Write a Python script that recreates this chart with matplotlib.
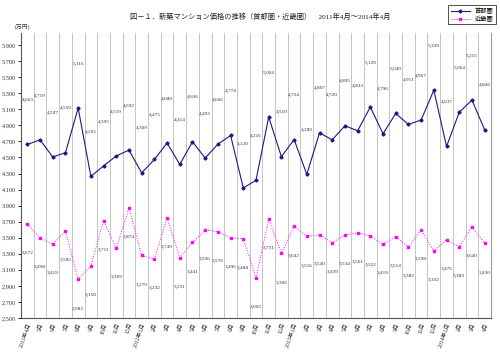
import numpy as np
import matplotlib.pyplot as plt

plt.rcParams['font.family'] = ['Liberation Serif', 'Noto Sans CJK JP', 'DejaVu Sans']

# monthly prices (万円), Apr 2011 - Apr 2014
months = ['2011年4月', '5月', '6月', '7月', '8月', '9月', '10月', '11月', '12月',
          '2012年1月', '2月', '3月', '4月', '5月', '6月', '7月', '8月', '9月',
          '10月', '11月', '12月', '2013年1月', '2月', '3月', '4月', '5月', '6月',
          '7月', '8月', '9月', '10月', '11月', '12月', '2014年1月', '2月', '3月', '4月']
shutoken = [4663, 4719, 4507, 4559, 5116, 4265, 4395, 4519, 4592, 4309, 4475, 4680,
            4414, 4696, 4493, 4666, 4774, 4120, 4216, 5004, 4510, 4724, 4289, 4807,
            4720, 4895, 4833, 5129, 4796, 5049, 4911, 4967, 5339, 4637, 5064, 5215, 4846]
kinki = [3672, 3498, 3419, 3582, 2982, 3150, 3711, 3369, 3874, 3279, 3232, 3749,
         3251, 3441, 3596, 3576, 3496, 3488, 3002, 3731, 3306, 3642, 3516, 3540,
         3439, 3534, 3561, 3522, 3419, 3514, 3382, 3598, 3332, 3475, 3383, 3640, 3430]
yticks = list(range(2500, 6000, 200))

x = np.arange(len(months))

fig = plt.figure(figsize=(5.0, 3.52), dpi=100)
ax = fig.add_axes([0.042, 0.0966, 0.94, 0.8094])

# vertical separators between months
for b in x[:-1] + 0.5:
    ax.axvline(b, color='#c4c4c4', lw=0.7, zorder=0)

ax.plot(x, shutoken, color='#1a1a80', lw=0.8, marker='D', ms=1.6, label='首都圏', zorder=3)
ax.plot(x, kinki, color='#ff00ff', lw=0.7, ls=':', marker='s', ms=1.7, label='近畿圏', zorder=3)

for xi, v in zip(x, shutoken):
    ax.annotate(f'{v:,}', (xi, v), xytext=(0, 32), textcoords='offset points',
                ha='center', va='center', fontsize=3.8, color='#333333')
for xi, v in zip(x, kinki):
    ax.annotate(f'{v:,}', (xi, v), xytext=(0, -21), textcoords='offset points',
                ha='center', va='center', fontsize=3.8, color='#333333')

ax.set_xlim(-0.5, len(months) - 0.5)
ax.set_ylim(2500, 6050)
ax.set_yticks(yticks)
ax.set_yticklabels([f'{t:,}' for t in yticks], fontsize=4.5, color='#333333')
ax.set_xticks(x)
ax.set_xticklabels(months, rotation=70, ha='right', va='top', rotation_mode='anchor',
                   fontsize=4.2, color='#333333')
ax.tick_params(axis='x', length=0, pad=3)
ax.tick_params(axis='y', length=2, width=0.6, pad=1.5)

ax.spines['top'].set_visible(False)
ax.spines['right'].set_color('#999999')
ax.spines['left'].set_color('#555555')
ax.spines['bottom'].set_color('#555555')
for s in ax.spines.values():
    s.set_linewidth(0.8)

fig.text(0.52, 0.955, '図－１．新築マンション価格の推移（首都圏・近畿圏）　2011年4月～2014年4月',
         ha='center', va='center', fontsize=5.2, color='#222222')
fig.text(0.045, 0.912, '(万円)', ha='center', va='bottom', fontsize=4.2, color='#333333')

leg = fig.legend(loc='upper right', bbox_to_anchor=(0.998, 0.995), fontsize=4.5,
                 frameon=True, fancybox=False, edgecolor='black', handlelength=3.0,
                 borderpad=0.4, labelspacing=0.3)
leg.get_frame().set_linewidth(0.6)

fig.savefig('out.png', dpi=100)
